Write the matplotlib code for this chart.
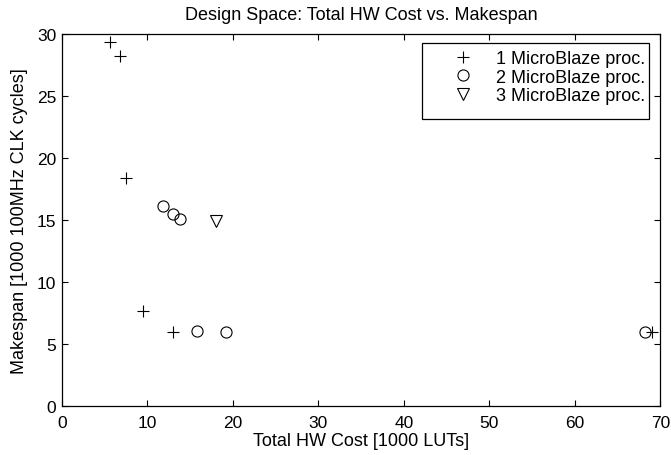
import matplotlib
matplotlib.use("Agg")
import matplotlib.pyplot as plt
from matplotlib.patches import Rectangle

plt.rcParams['font.family'] = ['Liberation Sans', 'DejaVu Sans']

# 1 MicroBlaze processor designs
cost_1 = [5.65, 6.82, 7.52, 9.55, 13.05, 69.0]
span_1 = [29.4, 28.2, 18.4, 7.7, 5.95, 5.95]

# 2 MicroBlaze processor designs
cost_2 = [11.85, 13.05, 13.8, 15.8, 19.2, 68.2]
span_2 = [16.15, 15.5, 15.05, 6.05, 5.95, 5.95]

# 3 MicroBlaze processor designs
cost_3 = [18.1]
span_3 = [14.95]

x_ticks = [0, 10, 20, 30, 40, 50, 60, 70]
y_ticks = [0, 5, 10, 15, 20, 25, 30]

fig = plt.figure(figsize=(6.71, 4.56), dpi=100)
ax = fig.add_axes([0.092, 0.1075, 0.892, 0.8155])

ax.plot(cost_1, span_1, linestyle='none', marker='+', markersize=8.5, color='black',
        markeredgewidth=0.8, label='1 MicroBlaze proc.')
ax.plot(cost_2, span_2, linestyle='none', marker='o', markersize=8, color='black',
        markerfacecolor='none', markeredgewidth=0.8, label='2 MicroBlaze proc.')
ax.plot(cost_3, span_3, linestyle='none', marker='v', markersize=9, color='black',
        markerfacecolor='none', markeredgewidth=0.8, label='3 MicroBlaze proc.')

ax.set_xlim(0, 70)
ax.set_ylim(0, 30)
ax.set_xticks(x_ticks)
ax.set_yticks(y_ticks)
ax.tick_params(direction='in', top=True, right=True, length=4, width=0.8,
               labelsize=12.5)
ax.tick_params(axis='x', pad=6.5)
ax.tick_params(axis='y', pad=4)
for s in ax.spines.values():
    s.set_linewidth(0.9)

ax.set_xlabel('Total HW Cost [1000 LUTs]', fontsize=13, labelpad=1.5)
ax.set_ylabel('Makespan [1000 100MHz CLK cycles]', fontsize=13, labelpad=6)
ax.set_title('Design Space: Total HW Cost vs. Makespan', fontsize=13, pad=11)

# MATLAB-style legend box: extra room below the entries
box = Rectangle((0.6015, 0.7715), 0.3795, 0.2045, transform=ax.transAxes,
                facecolor='white', edgecolor='black', linewidth=0.9, zorder=4)
ax.add_patch(box)
leg = ax.legend(loc='upper right', bbox_to_anchor=(0.9746, 0.957), fontsize=13,
                frameon=False, borderaxespad=0, handletextpad=0.9,
                labelspacing=0.08, borderpad=0, handlelength=1.8)
leg.set_zorder(5)

fig.savefig('out.png', dpi=100)
